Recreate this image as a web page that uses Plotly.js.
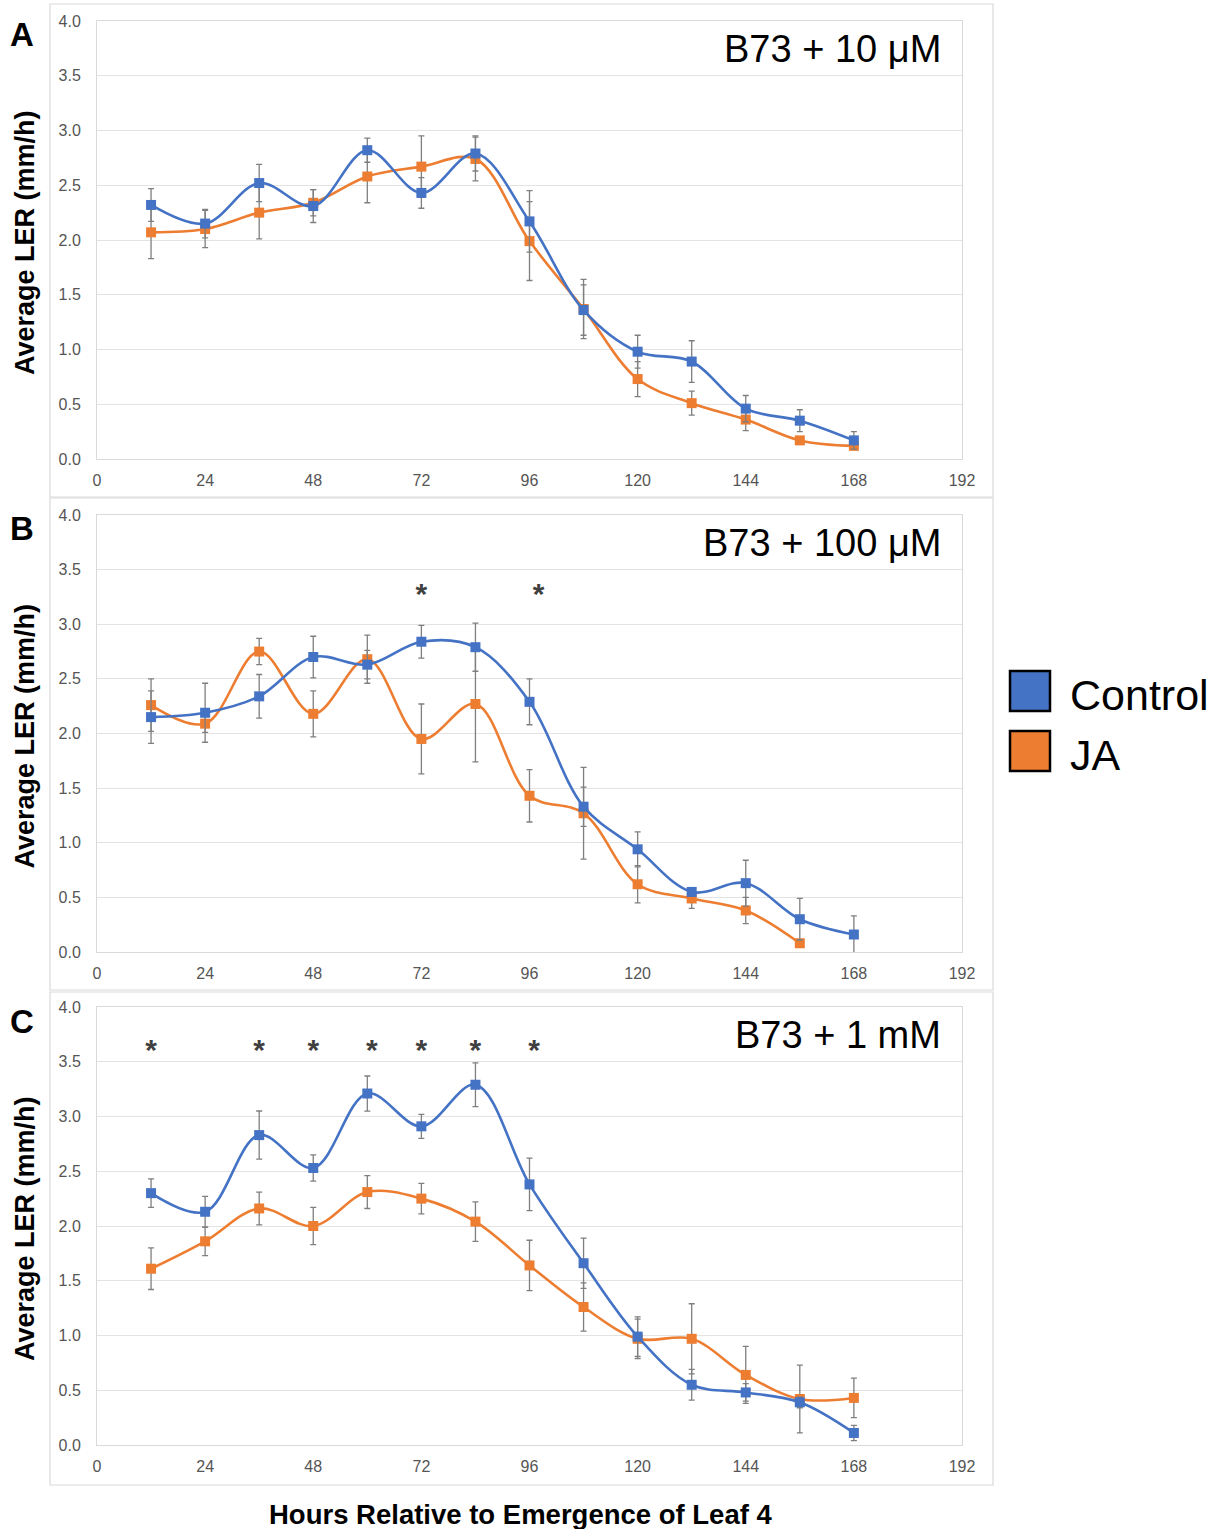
<!DOCTYPE html>
<html>
<head>
<meta charset="utf-8">
<script src="https://cdn.plot.ly/plotly-3.0.1.min.js"></script>
<style>html,body{margin:0;padding:0;background:#fff;}#chart{width:1217px;height:1529px;}</style>
</head>
<body>
<div id="chart"></div>
<script>
// ---- Data ----
var hours = [12, 24, 36, 48, 60, 72, 84, 96, 108, 120, 132, 144, 156, 168];
var xTicks = [0, 24, 48, 72, 96, 120, 144, 168, 192];
var yTicks = [0, 0.5, 1, 1.5, 2, 2.5, 3, 3.5, 4];
var yTickLabels = ["0.0", "0.5", "1.0", "1.5", "2.0", "2.5", "3.0", "3.5", "4.0"];

var seriesNames = ["Control", "JA"];

// Panel A: B73 + 10 µM
var A_ctrl     = [2.32, 2.15, 2.52, 2.31, 2.82, 2.43, 2.79, 2.17, 1.36, 0.98, 0.89, 0.46, 0.35, 0.17];
var A_ctrl_err = [0.15, 0.13, 0.17, 0.15, 0.11, 0.14, 0.16, 0.28, 0.23, 0.15, 0.19, 0.12, 0.10, 0.08];
var A_ja       = [2.07, 2.10, 2.25, 2.34, 2.58, 2.67, 2.74, 1.99, 1.37, 0.73, 0.51, 0.36, 0.17, 0.12];
var A_ja_err   = [0.24, 0.17, 0.24, 0.12, 0.24, 0.28, 0.20, 0.36, 0.27, 0.16, 0.11, 0.10, 0.03, 0.03];

// Panel B: B73 + 100 µM
var B_ctrl     = [2.15, 2.19, 2.34, 2.70, 2.63, 2.84, 2.79, 2.29, 1.33, 0.94, 0.55, 0.63, 0.30, 0.16];
var B_ctrl_err = [0.24, 0.27, 0.20, 0.19, 0.13, 0.15, 0.22, 0.21, 0.18, 0.16, 0.04, 0.21, 0.19, 0.17];
var B_ja       = [2.26, 2.09, 2.75, 2.18, 2.68, 1.95, 2.27, 1.43, 1.27, 0.62, 0.49, 0.38, 0.08, null];
var B_ja_err   = [0.24, 0.08, 0.12, 0.21, 0.22, 0.32, 0.53, 0.24, 0.42, 0.17, 0.09, 0.12, 0.02, null];

// Panel C: B73 + 1 mM
var C_ctrl     = [2.30, 2.13, 2.83, 2.53, 3.21, 2.91, 3.29, 2.38, 1.66, 0.99, 0.55, 0.48, 0.39, 0.11];
var C_ctrl_err = [0.13, 0.14, 0.22, 0.12, 0.16, 0.11, 0.20, 0.24, 0.23, 0.18, 0.14, 0.08, 0.05, 0.07];
var C_ja       = [1.61, 1.86, 2.16, 2.00, 2.31, 2.25, 2.04, 1.64, 1.26, 0.97, 0.97, 0.64, 0.42, 0.43];
var C_ja_err   = [0.19, 0.13, 0.15, 0.17, 0.15, 0.14, 0.18, 0.23, 0.22, 0.18, 0.32, 0.26, 0.31, 0.18];

// Significance stars
var B_star_x = [72, 98];
var B_star_y = [3.25, 3.25];
var C_star_x = [12, 36, 48, 61, 72, 84, 97];
var C_star_y = [3.58, 3.58, 3.58, 3.58, 3.58, 3.58, 3.58];

var panelTitles = ["B73 + 10 μM", "B73 + 100 μM", "B73 + 1 mM"];
var panelLetters = ["A", "B", "C"];
var yTitle = "Average LER (mm/h)";
var xTitle = "Hours Relative to Emergence of Leaf 4";

// ---- Styling ----
var W = 1217, H = 1529;
var BLUE = "#4472C4", ORANGE = "#ED7D31", ERR = "#7f7f7f";
var FONT = "Liberation Sans, Arial, sans-serif";
function px(x) { return x / W; }
function py(y) { return 1 - y / H; }

var panels = [
  {ctrl: A_ctrl, ce: A_ctrl_err, ja: A_ja, je: A_ja_err, top: 21, bot: 459, frameTop: 4, frameBot: 497},
  {ctrl: B_ctrl, ce: B_ctrl_err, ja: B_ja, je: B_ja_err, top: 515, bot: 952, frameTop: 498, frameBot: 990},
  {ctrl: C_ctrl, ce: C_ctrl_err, ja: C_ja, je: C_ja_err, top: 1007, bot: 1445, frameTop: 992, frameBot: 1485}
];

var traces = [];
var layout = {
  width: W, height: H,
  margin: {l: 0, r: 0, t: 0, b: 0},
  paper_bgcolor: "#fff", plot_bgcolor: "#fff",
  showlegend: false,
  hovermode: false,
  font: {family: FONT, color: "#595959", size: 16},
  shapes: [], annotations: []
};

panels.forEach(function (p, i) {
  var n = i + 1;
  var xa = "x" + (n === 1 ? "" : n), ya = "y" + (n === 1 ? "" : n);
  var xk = "xaxis" + (n === 1 ? "" : n), yk = "yaxis" + (n === 1 ? "" : n);

  function mk(y, e, color, name) {
    return {
      type: "scatter", mode: "lines+markers", x: hours, y: y, name: name,
      xaxis: xa, yaxis: ya, connectgaps: false,
      line: {color: color, width: 2.6, shape: "spline", smoothing: 1},
      marker: {color: color, size: 10, symbol: "square"},
      error_y: {type: "data", array: e, visible: true, color: ERR, thickness: 1.3, width: 3}
    };
  }
  traces.push(mk(p.ja, p.je, ORANGE, seriesNames[1]));
  traces.push(mk(p.ctrl, p.ce, BLUE, seriesNames[0]));

  layout[xk] = {
    domain: [px(97), px(962)], anchor: ya, range: [0, 192],
    tickvals: xTicks, ticktext: xTicks.map(String),
    showgrid: false, zeroline: false,
    showline: true, linecolor: "#d9d9d9", linewidth: 1, mirror: true,
    ticks: "outside", ticklen: 7, tickcolor: "rgba(0,0,0,0)",
    tickfont: {family: FONT, size: 16, color: "#555555"}
  };
  layout[yk] = {
    domain: [py(p.bot), py(p.top)], anchor: xa, range: [0, 4],
    tickvals: yTicks, ticktext: yTickLabels,
    showgrid: true, gridcolor: "#e3e3e3", gridwidth: 1, zeroline: false,
    showline: true, linecolor: "#d9d9d9", linewidth: 1, mirror: true,
    ticks: "outside", ticklen: 12, tickcolor: "rgba(0,0,0,0)",
    tickfont: {family: FONT, size: 16, color: "#555555"}
  };

  // Outer panel frame
  layout.shapes.push({type: "rect", xref: "paper", yref: "paper",
    x0: px(50), x1: px(993), y0: py(p.frameBot), y1: py(p.frameTop),
    line: {color: "#d9d9d9", width: 1.2}, fillcolor: "rgba(0,0,0,0)", layer: "below"});

  // Panel title
  layout.annotations.push({xref: "paper", yref: "paper", x: px(943), y: py(p.top + 28),
    xanchor: "right", yanchor: "middle", showarrow: false, text: panelTitles[i],
    font: {family: FONT, size: 38, color: "#000"}});
  // Panel letter
  layout.annotations.push({xref: "paper", yref: "paper", x: px(22), y: py(p.top + 14),
    xanchor: "center", yanchor: "middle", showarrow: false, text: "<b>" + panelLetters[i] + "</b>",
    font: {family: FONT, size: 33, color: "#000"}});
  // Y title
  layout.annotations.push({xref: "paper", yref: "paper", x: px(25), y: py((p.top + p.bot) / 2 + 3),
    xanchor: "center", yanchor: "middle", showarrow: false, textangle: -90,
    text: "<b>" + yTitle + "</b>", font: {family: FONT, size: 27, color: "#000"}});
});

// Stars
function stars(xs, ys, xa, ya) {
  return {type: "scatter", mode: "text", x: xs, y: ys, text: xs.map(function () { return "<b>*</b>"; }),
    xaxis: xa, yaxis: ya, textfont: {family: FONT, size: 30, color: "#404040"},
    textposition: "middle center", showlegend: false};
}
traces.push(stars(B_star_x, B_star_y, "x2", "y2"));
traces.push(stars(C_star_x, C_star_y, "x3", "y3"));

// X title
layout.annotations.push({xref: "paper", yref: "paper", x: px(520), y: py(1514),
  xanchor: "center", yanchor: "middle", showarrow: false, text: "<b>" + xTitle + "</b>",
  font: {family: FONT, size: 27.5, color: "#000"}});

// Legend (drawn)
var legendColors = [BLUE, ORANGE];
var legendTop = [671, 731];
seriesNames.forEach(function (nm, k) {
  layout.shapes.push({type: "rect", xref: "paper", yref: "paper",
    x0: px(1010), x1: px(1050), y0: py(legendTop[k] + 40), y1: py(legendTop[k]),
    line: {color: "#000", width: 2.5}, fillcolor: legendColors[k]});
  layout.annotations.push({xref: "paper", yref: "paper", x: px(1068), y: py(legendTop[k] + 24),
    xanchor: "left", yanchor: "middle", showarrow: false, text: nm,
    font: {family: FONT, size: 43, color: "#000"}});
});

Plotly.newPlot("chart", traces, layout, {staticPlot: true, displayModeBar: false});
</script>
</body>
</html>
